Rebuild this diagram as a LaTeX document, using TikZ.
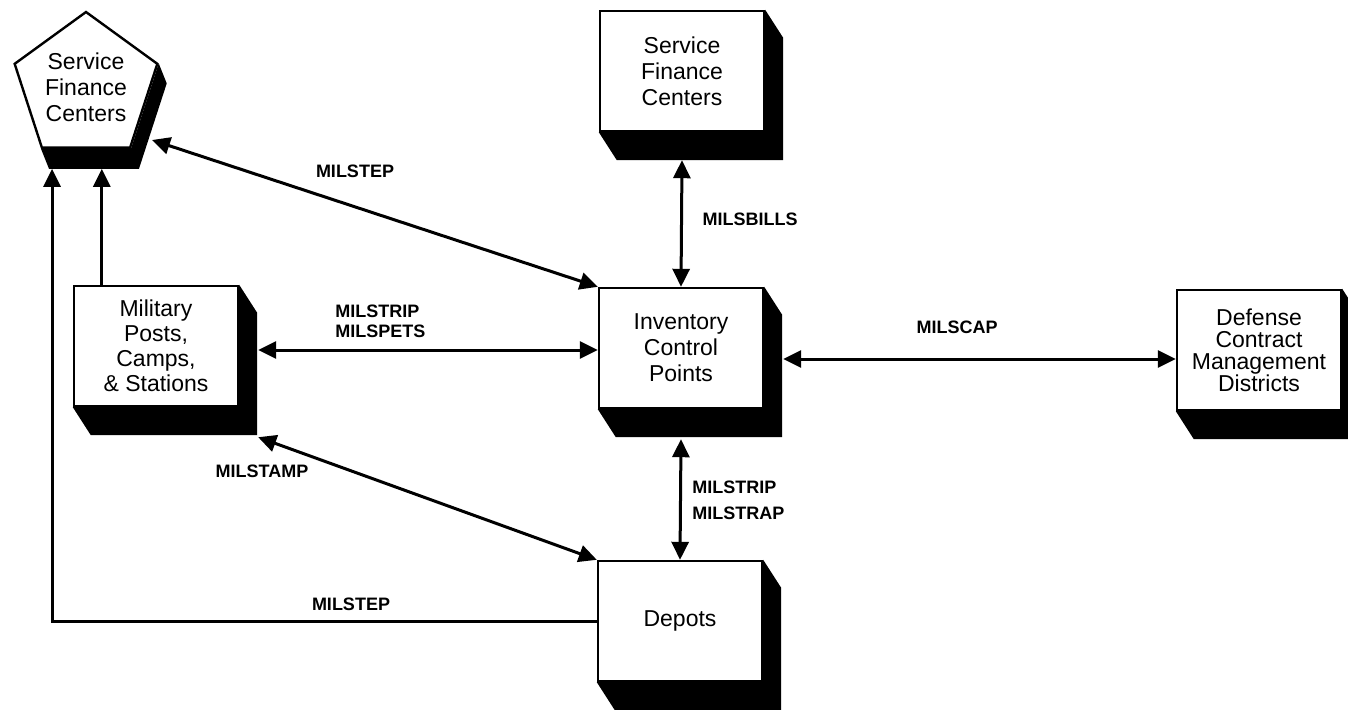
\documentclass[tikz,border=0pt]{standalone}
\usepackage{fontspec}
\setmainfont{Liberation Sans}
\usepackage{tikz}
\usetikzlibrary{shapes.geometric,arrows.meta,positioning,calc}

% solid 3D shadow below and right of a box
\newcommand{\boxshadow}[1]{%
  \fill (#1.north east) -- ++(18,28) -- ($(#1.south east)+(18,28)$) -- ($(#1.south west)+(18,28)$) -- (#1.south west) -- (#1.south east) -- cycle;}

\begin{document}
\begin{tikzpicture}[
    x=0.5pt, y=-0.5pt,
    box/.style={rectangle, draw, line width=1.2pt, fill=white, minimum width=82pt, minimum height=60pt, align=center, font=\fontsize{11.5pt}{13pt}\selectfont},
    pentbox/.style={regular polygon, regular polygon sides=5, draw, line width=1.2pt, fill=white, minimum size=75pt, inner sep=0pt, align=center, font=\fontsize{11.5pt}{13pt}\selectfont},
    lbl/.style={inner sep=0pt, font=\fontsize{9pt}{10pt}\selectfont\bfseries},
    arrow/.style={->, >={Triangle[length=9pt,width=8.5pt]}, line width=1.5pt},
    dblarrow/.style={arrow, <->}
]
\useasboundingbox (0,0) rectangle (1348,709);

% Nodes
\node[pentbox] (sfcl) at (86,87) {Service\\Finance\\Centers};
\node[box] (sfct) at (682,71) {Service\\Finance\\Centers};
\node[box] (icp) at (681,348) {Inventory\\Control\\Points};
\node[box, font=\fontsize{11.5pt}{12.5pt}\selectfont] (mil) at (156,346) {Military\\Posts,\\Camps,\\\& Stations};
\node[box, font=\fontsize{11.5pt}{11pt}\selectfont] (dcmd) at (1259,350) {Defense\\Contract\\Management\\Districts};
\node[box] (dep) at (680,621) {Depots};

% Shadows
\fill (sfcl.corner 5) -- ++(8,20) -- ($(sfcl.corner 4)+(8,20)$) -- ($(sfcl.corner 3)+(8,20)$) -- (sfcl.corner 3) -- (sfcl.corner 4) -- cycle;
\boxshadow{sfct}
\boxshadow{icp}
\boxshadow{mil}
\boxshadow{dcmd}
\boxshadow{dep}

% Helper points
\coordinate (stepA) at (152,140);
\coordinate (sfclB) at ($(sfcl.corner 3)+(8,20)$);
\coordinate (milT) at ($(mil.north west)+(29,0)$);

% Arrows
\draw[dblarrow] (stepA) -- (icp.north west);
\draw[dblarrow] ($(sfct.south)+(0,28)$) -- (icp.north);
\draw[dblarrow] ($(mil.east)+(19,4)$) -- ($(icp.west)+(0,2)$);
\draw[dblarrow] ($(icp.east)+(19,11)$) -- ($(dcmd.west)+(0,9)$);
\draw[dblarrow] ($(mil.south east)+(19,30)$) -- (dep.north west);
\draw[dblarrow] ($(icp.south)+(0,30)$) -- (dep.north);
\draw[arrow] (milT) -- (milT |- sfclB);
\draw[arrow] (dep.west) -| ($(sfclB)+(3,0)$);

% Labels
\node[lbl] (lstep) at (355,171) {MILSTEP};
\node[lbl] (lbills) at (750,219) {MILSBILLS};
\node[lbl, align=left, anchor=west] (lpets) at (335,321) {MILSTRIP\\MILSPETS};
\node[lbl] (lcap) at (957,327) {MILSCAP};
\node[lbl] (lstamp) at (262,471) {MILSTAMP};
\node[lbl, align=left, anchor=west, font=\fontsize{9pt}{13pt}\selectfont\bfseries] (lstrap) at (692,500) {MILSTRIP\\MILSTRAP};
\node[lbl] (lstep2) at (351,604) {MILSTEP};

\end{tikzpicture}
\end{document}
